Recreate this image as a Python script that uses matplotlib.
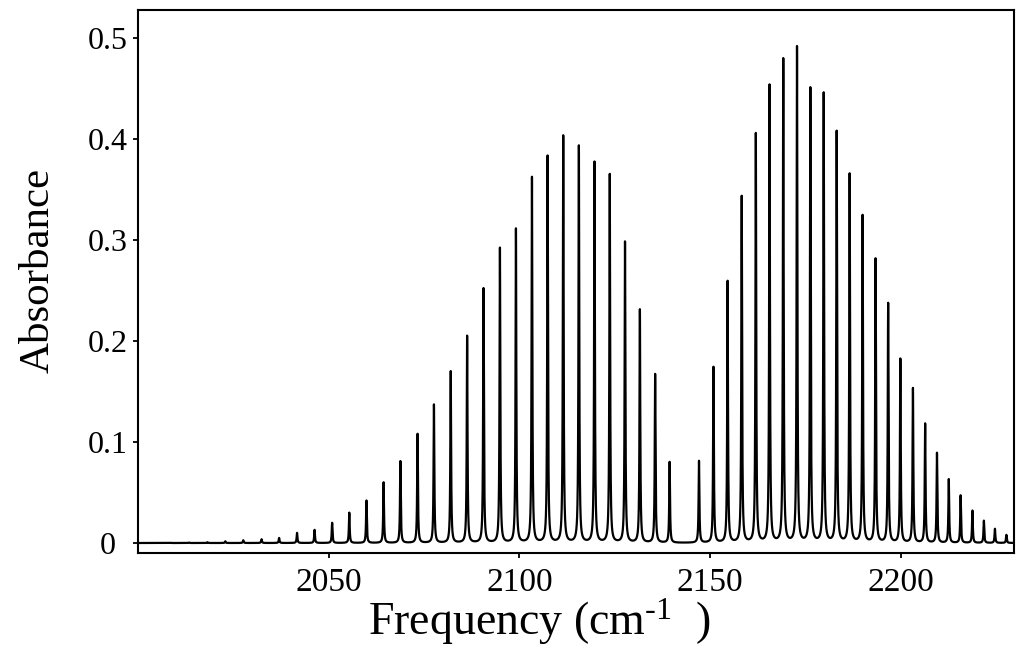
import numpy as np
import matplotlib
matplotlib.use("Agg")
import matplotlib.pyplot as plt

plt.rcParams["font.family"] = ["Liberation Serif", "DejaVu Serif"]
plt.rcParams["mathtext.fontset"] = "custom"
plt.rcParams["mathtext.rm"] = "Liberation Serif"
plt.rcParams["mathtext.it"] = "Liberation Serif:italic"

# P branch lines (cm-1) and peak absorbance
p_pos = [2139.4, 2135.6, 2131.6, 2127.7, 2123.7, 2119.7, 2115.6, 2111.5,
         2107.4, 2103.3, 2099.1, 2094.9, 2090.6, 2086.3, 2082.0, 2077.6,
         2073.3, 2068.8, 2064.4, 2059.9, 2055.4, 2050.9, 2046.3, 2041.7,
         2037.0, 2032.4, 2027.6, 2022.9, 2018.2, 2013.4, 2008.6]
p_abs = [0.080, 0.167, 0.231, 0.298, 0.365, 0.377, 0.393, 0.403,
         0.383, 0.362, 0.311, 0.292, 0.252, 0.205, 0.170, 0.137,
         0.108, 0.081, 0.060, 0.042, 0.030, 0.020, 0.013, 0.010,
         0.005, 0.0037, 0.0027, 0.0017, 0.0008, 0.0004, 0.0002]

# R branch lines
r_pos = [2147.1, 2150.9, 2154.6, 2158.3, 2162.0, 2165.6, 2169.2, 2172.8,
         2176.3, 2179.8, 2183.2, 2186.6, 2190.0, 2193.4, 2196.7, 2199.9,
         2203.2, 2206.4, 2209.5, 2212.6, 2215.7, 2218.8, 2221.8, 2224.7,
         2227.7]
r_abs = [0.081, 0.174, 0.259, 0.343, 0.405, 0.453, 0.479, 0.491,
         0.450, 0.445, 0.407, 0.365, 0.324, 0.281, 0.237, 0.182,
         0.153, 0.118, 0.089, 0.063, 0.047, 0.032, 0.022, 0.014,
         0.008]

x_ticks = [2050, 2100, 2150, 2200]
y_ticks = [0, 0.1, 0.2, 0.3, 0.4, 0.5]
y_tick_labels = ["0", "0.1", "0.2", "0.3", "0.4", "0.5"]

# narrow lorentzian lines
gamma = 0.12
freq = np.linspace(2000, 2230, 40000)
spec = np.zeros_like(freq)
for c, a in zip(p_pos + r_pos, p_abs + r_abs):
    spec += a * gamma**2 / ((freq - c)**2 + gamma**2)

fig = plt.figure(figsize=(10.16, 6.64), dpi=100)
ax = fig.add_axes([138 / 1016, 1 - 553 / 664, 876 / 1016, 543 / 664])
ax.plot(freq, spec, color="black", lw=1.6)

ax.set_xlim(2000, 2229.7)
ax.set_ylim(-0.0099, 0.528)
ax.set_xticks(x_ticks)
ax.set_yticks(y_ticks)
ax.set_yticklabels(y_tick_labels)
ax.tick_params(axis="both", direction="out", length=3.8, width=1.3)
ax.tick_params(axis="x", pad=6.5, labelsize=24)
ax.tick_params(axis="y", pad=18, labelsize=23)
for lab in ax.get_yticklabels():
    lab.set_horizontalalignment("center")
for s in ax.spines.values():
    s.set_linewidth(1.5)

ax.set_xlabel("Frequency (cm$^{\\text{-1}}$  )", fontsize=33)
ax.set_ylabel("Absorbance", fontsize=31)
ax.xaxis.set_label_coords(0.458, -0.08)
ax.yaxis.set_label_coords(-0.092, 0.52)

fig.savefig("out.png", dpi=100)
